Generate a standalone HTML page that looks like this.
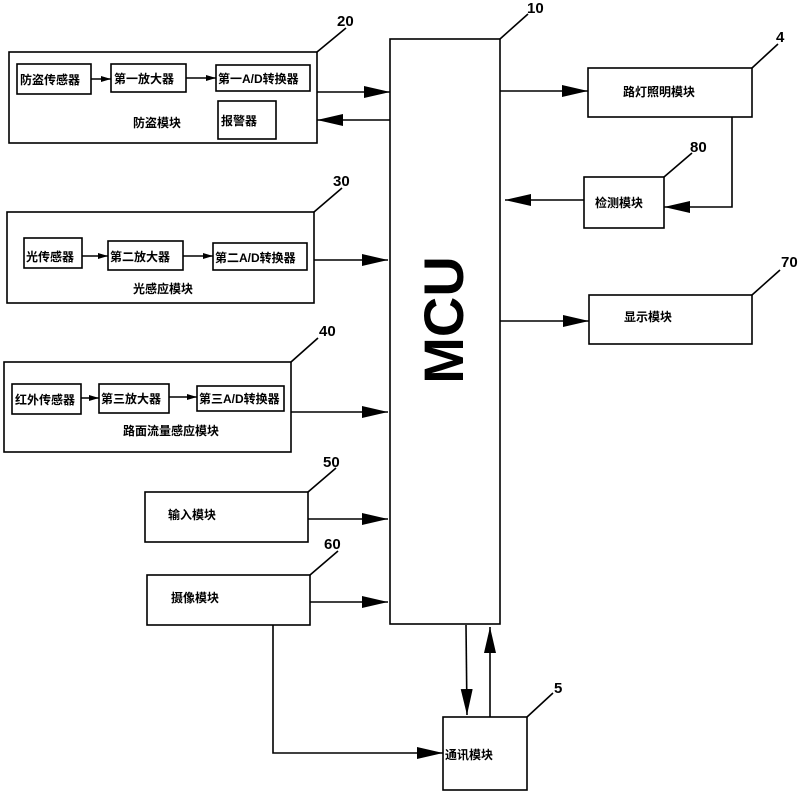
<!DOCTYPE html>
<html><head><meta charset="utf-8"><style>
html,body{margin:0;padding:0;background:#fff;}
svg text{font-family:"Liberation Sans","Noto Sans CJK SC",sans-serif;font-weight:bold;fill:#000;}
</style></head><body>
<svg width="800" height="791" viewBox="0 0 800 791" xmlns="http://www.w3.org/2000/svg">
<defs>
<marker id="a" markerWidth="26" markerHeight="12" refX="26" refY="6" orient="auto" markerUnits="userSpaceOnUse"><path d="M0,0 L26,6 L0,12 Z" fill="#000"/></marker>
<marker id="s" markerWidth="10" markerHeight="6" refX="10" refY="3" orient="auto" markerUnits="userSpaceOnUse"><path d="M0,0 L10,3 L0,6 Z" fill="#000"/></marker>
</defs>
<g fill="none" stroke="#000" stroke-width="1.6">
<!-- box 20 -->
<rect x="9" y="52" width="308" height="91"/>
<rect x="17" y="64" width="74" height="30"/>
<rect x="111" y="64" width="75" height="28"/>
<rect x="216" y="65" width="94" height="26"/>
<rect x="218" y="101" width="58" height="38"/>
<line x1="317" y1="52" x2="346" y2="28"/>
<!-- box 30 -->
<rect x="7" y="212" width="307" height="91"/>
<rect x="24" y="238" width="58" height="30"/>
<rect x="108" y="241" width="75" height="29"/>
<rect x="213" y="243" width="94" height="27"/>
<line x1="314" y1="212" x2="342" y2="188"/>
<!-- box 40 -->
<rect x="4" y="362" width="287" height="90"/>
<rect x="12" y="384" width="69" height="30"/>
<rect x="99" y="384" width="70" height="29"/>
<rect x="197" y="386" width="87" height="25"/>
<line x1="291" y1="362" x2="318" y2="338"/>
<!-- 50, 60 -->
<rect x="145" y="492" width="163" height="50"/>
<line x1="308" y1="492" x2="336" y2="468"/>
<rect x="147" y="575" width="163" height="50"/>
<line x1="310" y1="575" x2="338" y2="551"/>
<!-- MCU -->
<rect x="390" y="39" width="110" height="585"/>
<line x1="500" y1="39" x2="528" y2="14"/>
<!-- right boxes -->
<rect x="588" y="68" width="164" height="49"/>
<line x1="752" y1="68" x2="778" y2="44"/>
<rect x="584" y="177" width="80" height="51"/>
<line x1="664" y1="177" x2="692" y2="153"/>
<rect x="589" y="295" width="163" height="49"/>
<line x1="752" y1="295" x2="780" y2="270"/>
<!-- comm -->
<rect x="443" y="717" width="84" height="73"/>
<line x1="527" y1="717" x2="553" y2="693"/>
<!-- small arrows -->
<line x1="91" y1="79" x2="111" y2="79" marker-end="url(#s)"/>
<line x1="186" y1="78" x2="216" y2="78" marker-end="url(#s)"/>
<line x1="82" y1="256" x2="108" y2="256" marker-end="url(#s)"/>
<line x1="183" y1="256" x2="213" y2="256" marker-end="url(#s)"/>
<line x1="81" y1="398" x2="99" y2="398" marker-end="url(#s)"/>
<line x1="169" y1="397" x2="197" y2="397" marker-end="url(#s)"/>
<!-- big arrows -->
<line x1="317" y1="92" x2="390" y2="92" marker-end="url(#a)"/>
<line x1="390" y1="120" x2="317" y2="120" marker-end="url(#a)"/>
<line x1="314" y1="260" x2="388" y2="260" marker-end="url(#a)"/>
<line x1="291" y1="412" x2="388" y2="412" marker-end="url(#a)"/>
<line x1="308" y1="519" x2="388" y2="519" marker-end="url(#a)"/>
<line x1="310" y1="602" x2="388" y2="602" marker-end="url(#a)"/>
<line x1="500" y1="91" x2="588" y2="91" marker-end="url(#a)"/>
<line x1="584" y1="200" x2="505" y2="200" marker-end="url(#a)"/>
<polyline points="732,117 732,207 664,207" marker-end="url(#a)"/>
<line x1="500" y1="321" x2="589" y2="321" marker-end="url(#a)"/>
<line x1="466" y1="625" x2="467" y2="715" marker-end="url(#a)"/>
<line x1="490" y1="717" x2="490" y2="627" marker-end="url(#a)"/>
<polyline points="273,625 273,753 443,753" marker-end="url(#a)"/>
</g>
<g font-size="12">
<text x="20" y="84">防盗传感器</text>
<text x="114" y="83">第一放大器</text>
<text x="218" y="83">第一A/D转换器</text>
<text x="221" y="125">报警器</text>
<text x="133" y="127">防盗模块</text>
<text x="26" y="261">光传感器</text>
<text x="110" y="261">第二放大器</text>
<text x="215" y="262">第二A/D转换器</text>
<text x="133" y="293">光感应模块</text>
<text x="15" y="404">红外传感器</text>
<text x="101" y="403">第三放大器</text>
<text x="199" y="403">第三A/D转换器</text>
<text x="123" y="435">路面流量感应模块</text>
<text x="168" y="519">输入模块</text>
<text x="171" y="602">摄像模块</text>
<text x="623" y="96">路灯照明模块</text>
<text x="595" y="207">检测模块</text>
<text x="624" y="321">显示模块</text>
<text x="445" y="759">通讯模块</text>
</g>
<g font-size="15">
<text x="337" y="26">20</text>
<text x="527" y="13">10</text>
<text x="776" y="42">4</text>
<text x="690" y="152">80</text>
<text x="781" y="267">70</text>
<text x="333" y="186">30</text>
<text x="319" y="336">40</text>
<text x="323" y="467">50</text>
<text x="324" y="549">60</text>
<text x="554" y="693">5</text>
</g>
<text transform="translate(463,320) rotate(-90)" text-anchor="middle" font-size="56">MCU</text>
</svg>
</body></html>
